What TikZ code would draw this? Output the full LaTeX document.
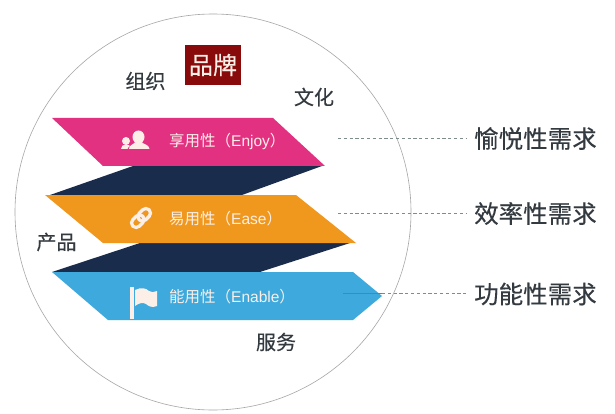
\documentclass[tikz,border=0pt]{standalone}
\usepackage{fontspec}
\setmainfont{Noto Sans CJK SC}[FakeBold=0.25]
\newfontfamily\plainf{Noto Sans CJK SC}
\newfontfamily\latinf{Liberation Sans}
\definecolor{pinkb}{HTML}{E33182}
\definecolor{orangeb}{HTML}{F0981E}
\definecolor{blueb}{HTML}{3DA9DC}
\definecolor{darkb}{HTML}{1A2C4C}
\definecolor{redb}{HTML}{880A0A}
\definecolor{inktext}{HTML}{333A40}
\definecolor{softw}{HTML}{FBEFE8}
\definecolor{dashc}{HTML}{7F8C8C}
\tikzset{
  band/.style={draw=none},
  dashlink/.style={draw=dashc,line width=1pt,dash pattern=on 3.2pt off 2.6pt},
  side/.style={font=\fontsize{20}{22}\selectfont,text=inktext,inner sep=0pt,anchor=center},
  need/.style={font=\fontsize{24.5}{26}\selectfont,text=inktext,inner sep=0pt,anchor=west},
  bandtext/.style={font=\plainf\fontsize{15.5}{17}\selectfont,text=softw,inner sep=0pt,anchor=west},
}
\begin{document}
\begin{tikzpicture}[x=1pt,y=-1pt]
\useasboundingbox (0,0) rectangle (615,414);
\fill[white] (0,0) rectangle (615,414);
\draw[gray!70,line width=0.6pt] (213,212) circle[radius=198];
% dark bands
\fill[darkb,band] (50,195) -- (133,166) -- (322,166) -- (242,195) -- cycle;
\fill[darkb,band] (52,272) -- (140,243) -- (350,243) -- (260,272) -- cycle;
% colour bands
\fill[pinkb,band] (52,118) -- (273,118) -- (325,166) -- (103,166) -- cycle;
\fill[orangeb,band] (45,195) -- (296,195) -- (356,243) -- (103,243) -- cycle;
\fill[blueb,band] (52,272) -- (353,272) -- (382,296) -- (353,320) -- (108,320) -- cycle;
% brand box
\node[fill=redb,minimum width=56pt,minimum height=40pt,inner sep=0pt,text=softw,font=\fontsize{24}{26}\selectfont] (brand) at (213,65) {品牌};
% side labels
\node[side] (org) at (145.5,81) {组织};
\node[side] (cul) at (314,97) {文化};
\node[side] (prod) at (56.5,242) {产品};
\node[side] (svc) at (276,342) {服务};
% band texts
\node[bandtext] (t1) at (169,141) {享用性（{\latinf Enjoy}）};
\node[bandtext] (t2) at (169,219) {易用性（{\latinf Ease}）};
\node[bandtext] (t3) at (169,297) {能用性（{\latinf Enable}）};
% people icon
\fill[softw] (138.5,137) ellipse[x radius=6,y radius=6.5];
\fill[softw] (135,141) -- (142,141) -- (142.5,143) .. controls (145,144.5) and (149,145) .. (149.5,149) -- (129,149) .. controls (129,145.5) and (132.5,144.5) .. (134.5,143) -- cycle;
\fill[softw] (126,141) circle[radius=4];
\fill[softw] (121,149) .. controls (121,146) and (123,144.5) .. (126,144.5) .. controls (127.5,144.5) and (129,145) .. (130,146) .. controls (128.5,147) and (127.5,148) .. (127.5,149) -- cycle;
% chain icon
\begin{scope}[shift={(141,218)},rotate=45]
  \draw[softw,line width=3.2pt,rounded corners=4.5pt] (-11.5,-4.6) rectangle (2.5,4.6);
  \draw[softw,line width=3.2pt,rounded corners=4.5pt] (-2.5,-4.6) rectangle (11.5,4.6);
\end{scope}
% flag icon
\fill[softw] (130,287) rectangle (133.5,319);
\fill[softw] (135,290) .. controls (141,287) and (146,288) .. (149,291) .. controls (151,292.5) and (154,292.5) .. (157,291) -- (157,306) .. controls (152,308) and (149,306.5) .. (146,304) .. controls (143,302) and (139,303) .. (135,306) -- cycle;
% need labels
\node[need] (n1) at (474,138.5) {愉悦性需求};
\node[need] (n2) at (474,213.5) {效率性需求};
\node[need] (n3) at (474,294) {功能性需求};
\coordinate (s1) at (338,138.5);
\coordinate (s2) at (338,213);
\coordinate (s3) at (382,293);
\coordinate (s3b) at (343,293);
\coordinate (e1) at (466,138.5);
\coordinate (e2) at (466,213);
\coordinate (e3) at (466,293);
\draw[dashlink] (s1) -- (e1);
\draw[dashlink] (s2) -- (e2);
\draw[blueb!85!black,line width=0.5pt] (s3b) -- (s3);
\draw[dashlink] (s3) -- (e3);
\end{tikzpicture}
\end{document}
